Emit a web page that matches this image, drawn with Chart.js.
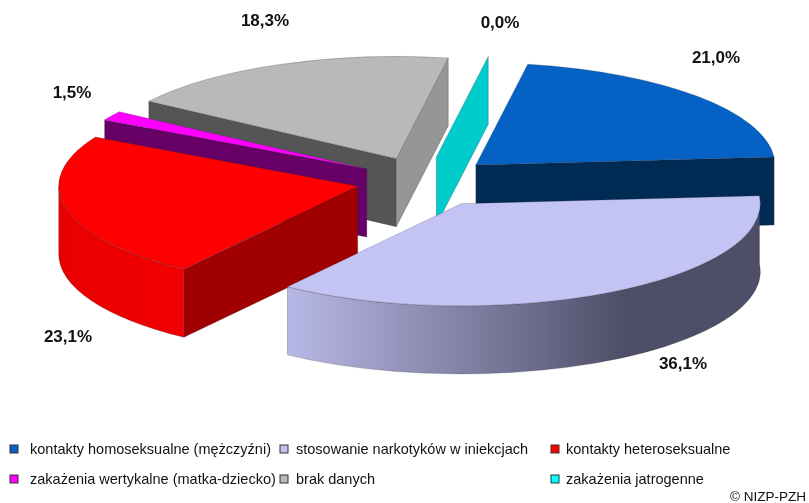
<!DOCTYPE html>
<html><head><meta charset="utf-8">
<style>html,body{margin:0;padding:0;background:#fff}#w{width:809px;height:503px}</style>
<script src="https://cdn.jsdelivr.net/npm/chart.js@4"></script>
</head><body><div id="w"><canvas id="c" width="809" height="503"></canvas></div>
<script>
const categories = ['kontakty homoseksualne (mężczyźni)','stosowanie narkotyków w iniekcjach','kontakty heteroseksualne','zakażenia wertykalne (matka-dziecko)','brak danych','zakażenia jatrogenne'];
const shares = [21.0,36.1,23.1,1.5,18.3,0.0];
const shareLabels = ['21,0%','36,1%','23,1%','1,5%','18,3%','0,0%'];
const topColors = ['#0562C4','#C4C4F4','#FF0000','#FF00FF','#B9B9B9','#00CCCC'];
const edgeColors = ['#002B55','#5A5A80','#A00000','#660066','#555555','#00CCCC'];
const endEdgeColors = ['#002B55','#5A5A80','#A00000','#660066','#969696','#00CCCC'];
const rimStops = [['#002B55','#002B55'],['#B8B8E6','#4E4E68'],['#E80000','#F00000'],['#660066','#660066'],['#555555','#555555'],['#00CCCC','#00CCCC']];
const legendMarkers = ['#0562C4','#C4C4F4','#FF0000','#FF00FF','#B9B9B9','#00FFFF'];
const paintOrder = [4,3,2,5,0,1];
const explodeBy = [70,76,68,67,71,71];
const labelAnchors = [[716,58],[683,364],[68,337],[72,93],[265,21],[500,23]];
const legendSlots = [[14,30,450],[284,296,450],[555,566,450],[14,30,480],[284,296,480],[555,566,480]];
const TILT = 0.342, DEPTH = 68, RADIUS = 299, RIM_KNEE = 0.72;
const FONT = '"Liberation Sans", Arial, sans-serif';

const pie3d = {
  id:'pie3d',
  beforeDatasetDraw(chart){
    const ctx = chart.ctx, arcs = chart.getDatasetMeta(0).data;
    paintOrder.forEach(i=>{
      const a = arcs[i], s=a.startAngle, e=a.endAngle, mid=(s+e)/2, R=a.outerRadius, EX=explodeBy[i];
      const ox = a.x+Math.cos(mid)*EX;
      const oy = a.y+Math.sin(mid)*EX*TILT;
      const pt = t=>[ox+Math.cos(t)*R, oy+Math.sin(t)*R*TILT];
      ctx.save();
      ctx.lineWidth=0.5; ctx.strokeStyle='rgba(40,40,50,0.5)'; ctx.lineJoin='round';
      const wall=(t,col)=>{
        const p=pt(t);
        ctx.beginPath();ctx.moveTo(ox,oy);ctx.lineTo(p[0],p[1]);ctx.lineTo(p[0],p[1]+DEPTH);ctx.lineTo(ox,oy+DEPTH);ctx.closePath();
        ctx.fillStyle=col;ctx.fill();ctx.stroke();
      };
      if(-Math.cos(s)>0.001 && e>s) wall(s,edgeColors[i]);
      if(Math.cos(e)>0.001) wall(e,endEdgeColors[i]);
      const two=Math.PI*2;
      for(let k=-1;k<=1;k++){
        const from=Math.max(s,k*two-0.08), to=Math.min(e,k*two+Math.PI);
        if(to>from){
          const l=Math.min(pt(to)[0],pt(from)[0]), r=Math.max(pt(to)[0],pt(from)[0]);
          const g=ctx.createLinearGradient(l,0,r,0);
          g.addColorStop(0,rimStops[i][0]);g.addColorStop(RIM_KNEE,rimStops[i][1]);g.addColorStop(1,rimStops[i][1]);
          ctx.beginPath();
          ctx.ellipse(ox,oy,R,R*TILT,0,from,to,false);
          ctx.ellipse(ox,oy+DEPTH,R,R*TILT,0,to,from,true);
          ctx.closePath();ctx.fillStyle=g;ctx.fill();ctx.stroke();
        }
      }
      ctx.translate(0,a.y);ctx.scale(1,TILT);ctx.translate(0,-a.y);
      ctx.translate(Math.cos(mid)*EX,Math.sin(mid)*EX);
      a.draw(ctx);
      ctx.restore();
    });
    return false;
  },
  afterDraw(chart){
    const ctx=chart.ctx;
    ctx.save();
    ctx.fillStyle='#111';ctx.textBaseline='middle';
    ctx.font='bold 17px '+FONT;ctx.textAlign='center';
    shareLabels.forEach((t,i)=>ctx.fillText(t,labelAnchors[i][0],labelAnchors[i][1]));
    ctx.font='14.5px '+FONT;ctx.textAlign='left';
    categories.forEach((t,i)=>{
      const [mx,tx,y]=legendSlots[i];
      ctx.fillStyle=legendMarkers[i];ctx.strokeStyle='#333';ctx.lineWidth=1;
      ctx.fillRect(mx-4,y-5,8,8);ctx.strokeRect(mx-4,y-5,8,8);
      ctx.fillStyle='#111';ctx.fillText(t,tx,y);
    });
    ctx.font='13.5px '+FONT;ctx.textAlign='right';
    ctx.fillText('© NIZP-PZH',806,497);
    ctx.restore();
  }
};

new Chart(document.getElementById('c'),{
  type:'pie',
  data:{labels:categories,datasets:[{data:shares,backgroundColor:topColors,borderColor:'rgba(40,40,50,0.5)',borderWidth:0.7,borderAlign:'center'}]},
  options:{
    responsive:false,animation:false,radius:RADIUS,rotation:10,
    layout:{padding:{left:39,right:0,top:0,bottom:141}},
    plugins:{legend:{display:false},tooltip:{enabled:false}}
  },
  plugins:[pie3d]
});
</script></body></html>
